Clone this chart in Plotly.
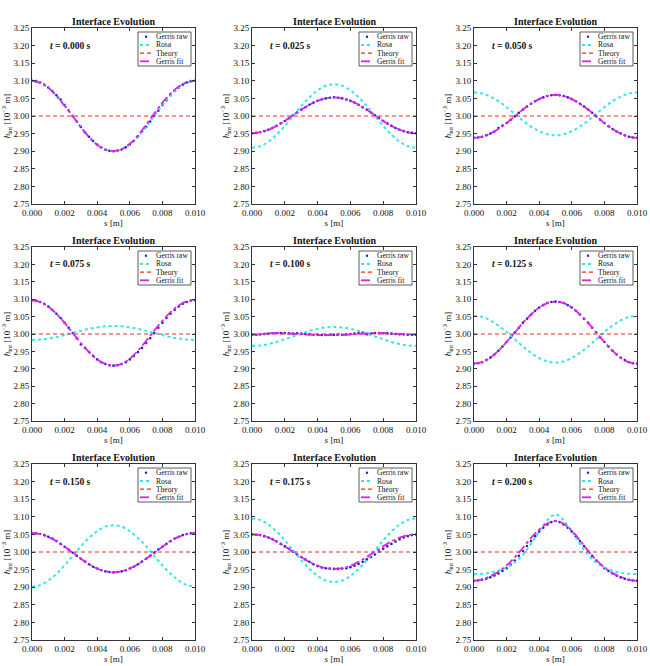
import plotly.graph_objects as go

# ---------------- data ----------------
TIMES = ["0.000", "0.025", "0.050", "0.075", "0.100", "0.125", "0.150", "0.175", "0.200"]
SERIES_NAMES = ["Gerris raw", "Rosa", "Theory", "Gerris fit"]

S21 = [0.0000, 0.0005, 0.0010, 0.0015, 0.0020, 0.0025, 0.0030, 0.0035, 0.0040, 0.0045,
       0.0050, 0.0055, 0.0060, 0.0065, 0.0070, 0.0075, 0.0080, 0.0085, 0.0090, 0.0095, 0.0100]

S41 = [0.00000, 0.00025, 0.00050, 0.00075, 0.00100, 0.00125, 0.00150, 0.00175, 0.00200, 0.00225,
       0.00250, 0.00275, 0.00300, 0.00325, 0.00350, 0.00375, 0.00400, 0.00425, 0.00450, 0.00475,
       0.00500, 0.00525, 0.00550, 0.00575, 0.00600, 0.00625, 0.00650, 0.00675, 0.00700, 0.00725,
       0.00750, 0.00775, 0.00800, 0.00825, 0.00850, 0.00875, 0.00900, 0.00925, 0.00950, 0.00975,
       0.01000]

THEORY_H = 3.00

gerris_raw_000 = [3.100, 3.099, 3.095, 3.089, 3.081, 3.071, 3.059, 3.047, 3.031, 3.016, 3.000, 2.984, 2.969, 2.953, 2.941, 2.929, 2.919, 2.911, 2.905, 2.901, 2.900,
                  2.901, 2.905, 2.911, 2.919, 2.929, 2.942, 2.956, 2.969, 2.984, 3.000, 3.015, 3.031, 3.045, 3.059, 3.071, 3.081, 3.089, 3.095, 3.099, 3.100]
gerris_raw_025 = [2.951, 2.952, 2.954, 2.957, 2.961, 2.966, 2.972, 2.979, 2.986, 2.994, 3.002, 3.010, 3.018, 3.025, 3.032, 3.038, 3.043, 3.047, 3.050, 3.052, 3.053,
                  3.052, 3.050, 3.047, 3.043, 3.038, 3.032, 3.025, 3.018, 3.010, 3.002, 2.994, 2.986, 2.979, 2.972, 2.966, 2.961, 2.957, 2.954, 2.952, 2.951]
gerris_raw_050 = [2.938, 2.939, 2.941, 2.945, 2.950, 2.956, 2.966, 2.973, 2.980, 2.989, 2.999, 3.009, 3.018, 3.027, 3.035, 3.042, 3.048, 3.053, 3.057, 3.059, 3.060,
                  3.059, 3.057, 3.053, 3.048, 3.042, 3.035, 3.027, 3.018, 3.009, 2.999, 2.989, 2.980, 2.971, 2.963, 2.956, 2.950, 2.945, 2.941, 2.939, 2.938]
gerris_raw_075 = [3.097, 3.096, 3.092, 3.087, 3.079, 3.069, 3.058, 3.046, 3.032, 3.018, 3.003, 2.988, 2.970, 2.960, 2.948, 2.937, 2.927, 2.919, 2.914, 2.910, 2.909,
                  2.910, 2.914, 2.919, 2.927, 2.937, 2.948, 2.960, 2.974, 2.988, 3.003, 3.018, 3.032, 3.046, 3.058, 3.069, 3.079, 3.087, 3.092, 3.096, 3.097]
gerris_raw_100 = [2.998, 2.998, 2.999, 3.000, 3.001, 3.002, 3.003, 3.003, 3.003, 3.002, 3.001, 3.002, 3.001, 3.000, 2.999, 2.998, 2.998, 2.997, 2.997, 2.998, 2.998,
                  2.998, 2.998, 2.999, 3.000, 3.001, 3.003, 3.004, 2.999, 3.001, 3.003, 3.003, 3.002, 3.002, 3.001, 3.000, 2.999, 2.999, 2.998, 2.998, 2.998]
gerris_raw_125 = [2.915, 2.916, 2.919, 2.925, 2.932, 2.941, 2.952, 2.964, 2.977, 2.990, 3.004, 3.018, 3.032, 3.044, 3.056, 3.067, 3.076, 3.083, 3.089, 3.092, 3.093,
                  3.092, 3.089, 3.083, 3.076, 3.067, 3.056, 3.044, 3.032, 3.018, 3.004, 2.990, 2.977, 2.964, 2.952, 2.941, 2.932, 2.925, 2.919, 2.916, 2.915]
gerris_raw_150 = [3.054, 3.053, 3.051, 3.048, 3.043, 3.038, 3.031, 3.023, 3.015, 3.007, 2.998, 2.989, 2.981, 2.973, 2.965, 2.958, 2.953, 2.948, 2.945, 2.943, 2.942,
                  2.943, 2.945, 2.948, 2.953, 2.958, 2.965, 2.973, 2.981, 2.989, 2.998, 3.007, 3.015, 3.023, 3.031, 3.038, 3.043, 3.048, 3.051, 3.053, 3.054]
gerris_raw_175 = [3.050, 3.049, 3.048, 3.045, 3.041, 3.036, 3.030, 3.023, 3.016, 3.009, 3.001, 2.993, 2.986, 2.979, 2.972, 2.965, 2.960, 2.956, 2.954, 2.953, 2.952,
                  2.952, 2.953, 2.954, 2.957, 2.961, 2.966, 2.972, 2.979, 2.986, 2.993, 3.001, 3.009, 3.016, 3.023, 3.030, 3.036, 3.041, 3.045, 3.048, 3.050]
gerris_raw_200 = [2.918, 2.919, 2.921, 2.924, 2.928, 2.933, 2.939, 2.946, 2.954, 2.964, 2.976, 2.989, 3.003, 3.017, 3.031, 3.045, 3.058, 3.069, 3.078, 3.085, 3.088,
                  3.085, 3.078, 3.069, 3.058, 3.045, 3.031, 3.017, 3.003, 2.989, 2.976, 2.964, 2.954, 2.946, 2.939, 2.933, 2.928, 2.924, 2.921, 2.919, 2.918]

rosa_000 = [3.100, 3.095, 3.081, 3.059, 3.031, 3.000, 2.969, 2.941, 2.919, 2.905, 2.900, 2.905, 2.919, 2.941, 2.969, 3.000, 3.031, 3.059, 3.081, 3.095, 3.100]
rosa_025 = [2.910, 2.914, 2.927, 2.947, 2.972, 3.000, 3.028, 3.053, 3.073, 3.086, 3.090, 3.086, 3.073, 3.053, 3.028, 3.000, 2.972, 2.947, 2.927, 2.914, 2.910]
rosa_050 = [3.067, 3.064, 3.055, 3.042, 3.025, 3.006, 2.987, 2.970, 2.957, 2.948, 2.945, 2.948, 2.957, 2.970, 2.987, 3.006, 3.025, 3.042, 3.055, 3.064, 3.067]
rosa_075 = [2.983, 2.984, 2.987, 2.991, 2.997, 3.003, 3.009, 3.015, 3.019, 3.022, 3.023, 3.022, 3.019, 3.015, 3.009, 3.003, 2.997, 2.991, 2.987, 2.984, 2.983]
rosa_100 = [2.966, 2.967, 2.971, 2.977, 2.985, 2.993, 3.001, 3.009, 3.015, 3.019, 3.020, 3.019, 3.015, 3.009, 3.001, 2.993, 2.985, 2.977, 2.971, 2.967, 2.966]
rosa_125 = [3.052, 3.049, 3.039, 3.024, 3.006, 2.985, 2.964, 2.946, 2.931, 2.921, 2.918, 2.921, 2.931, 2.946, 2.964, 2.985, 3.006, 3.024, 3.039, 3.049, 3.052]
rosa_150 = [2.902, 2.906, 2.919, 2.938, 2.962, 2.989, 3.016, 3.040, 3.059, 3.072, 3.076, 3.072, 3.059, 3.040, 3.016, 2.989, 2.962, 2.938, 2.919, 2.906, 2.902]
rosa_175 = [3.095, 3.091, 3.078, 3.058, 3.033, 3.005, 2.977, 2.952, 2.932, 2.919, 2.915, 2.919, 2.932, 2.952, 2.977, 3.005, 3.033, 3.058, 3.078, 3.091, 3.095]
rosa_200 = [2.937, 2.938, 2.941, 2.947, 2.956, 2.970, 2.992, 3.023, 3.058, 3.090, 3.107, 3.090, 3.058, 3.023, 2.992, 2.970, 2.956, 2.947, 2.941, 2.938, 2.937]

gerris_fit_000 = [3.100, 3.094, 3.080, 3.057, 3.029, 2.999, 2.968, 2.940, 2.918, 2.904, 2.901, 2.906, 2.921, 2.945, 2.975, 3.007, 3.038, 3.064, 3.084, 3.096, 3.100]
gerris_fit_025 = [2.951, 2.954, 2.961, 2.972, 2.986, 3.002, 3.018, 3.032, 3.043, 3.050, 3.053, 3.050, 3.043, 3.032, 3.018, 3.002, 2.986, 2.972, 2.961, 2.954, 2.951]
gerris_fit_050 = [2.938, 2.941, 2.950, 2.963, 2.980, 2.999, 3.018, 3.035, 3.048, 3.057, 3.060, 3.057, 3.048, 3.035, 3.018, 2.999, 2.980, 2.963, 2.950, 2.941, 2.938]
gerris_fit_075 = [3.097, 3.092, 3.079, 3.058, 3.032, 3.003, 2.974, 2.948, 2.927, 2.914, 2.909, 2.914, 2.929, 2.952, 2.980, 3.010, 3.038, 3.063, 3.082, 3.094, 3.097]
gerris_fit_100 = [2.998, 2.999, 3.002, 3.003, 3.002, 3.001, 2.999, 2.998, 2.997, 2.997, 2.997, 2.997, 2.998, 3.000, 3.002, 3.003, 3.003, 3.002, 3.000, 2.999, 2.998]
gerris_fit_125 = [2.915, 2.919, 2.932, 2.952, 2.977, 3.004, 3.032, 3.056, 3.076, 3.089, 3.093, 3.089, 3.076, 3.056, 3.032, 3.004, 2.977, 2.952, 2.932, 2.919, 2.915]
gerris_fit_150 = [3.054, 3.051, 3.043, 3.031, 3.015, 2.998, 2.981, 2.965, 2.953, 2.945, 2.942, 2.945, 2.953, 2.965, 2.981, 2.998, 3.015, 3.031, 3.043, 3.051, 3.054]
gerris_fit_175 = [3.050, 3.048, 3.041, 3.030, 3.016, 3.001, 2.986, 2.972, 2.961, 2.954, 2.952, 2.954, 2.961, 2.972, 2.986, 3.001, 3.016, 3.030, 3.041, 3.048, 3.050]
gerris_fit_200 = [2.918, 2.922, 2.931, 2.944, 2.962, 2.985, 3.012, 3.040, 3.064, 3.081, 3.088, 3.080, 3.060, 3.033, 3.003, 2.977, 2.956, 2.940, 2.929, 2.921, 2.918]

GERRIS_RAW = [gerris_raw_000, gerris_raw_025, gerris_raw_050, gerris_raw_075, gerris_raw_100,
              gerris_raw_125, gerris_raw_150, gerris_raw_175, gerris_raw_200]
ROSA = [rosa_000, rosa_025, rosa_050, rosa_075, rosa_100, rosa_125, rosa_150, rosa_175, rosa_200]
GERRIS_FIT = [gerris_fit_000, gerris_fit_025, gerris_fit_050, gerris_fit_075, gerris_fit_100,
              gerris_fit_125, gerris_fit_150, gerris_fit_175, gerris_fit_200]

X_TICKS = [0.000, 0.002, 0.004, 0.006, 0.008, 0.010]
X_TICKTEXT = ["0.000", "0.002", "0.004", "0.006", "0.008", "0.010"]
Y_TICKS = [2.75, 2.80, 2.85, 2.90, 2.95, 3.00, 3.05, 3.10, 3.15, 3.20, 3.25]
Y_TICKTEXT = ["2.75", "2.80", "2.85", "2.90", "2.95", "3.00", "3.05", "3.10", "3.15", "3.20", "3.25"]

# ---------------- layout geometry / styles ----------------
W, H = 650, 666
COL_PX = [(32, 195), (252, 416), (474, 637)]
ROW_PX = [(28, 204), (247, 421), (464, 640)]

FONT = "Liberation Serif"
C_RAW = "#2020d8"
C_ROSA = "#33e6e6"
C_THEORY = "#e8302a"
C_FIT = "#e020e8"
TXT = "#111"
THEORY_DASH = "4px,3px"

fig = go.Figure()
layout = dict(width=W, height=H, margin=dict(l=0, r=0, t=0, b=0, autoexpand=False),
              paper_bgcolor="white", plot_bgcolor="white", template="none",
              font=dict(family=FONT, size=9, color=TXT), showlegend=False)
annotations = []
shapes = []


def px_x(p):
    return p / W


def px_y(p):
    return 1 - p / H


for i in range(9):
    r, c = divmod(i, 3)
    n = i + 1
    xs = "" if n == 1 else str(n)
    xref, yref = "x" + xs, "y" + xs

    fig.add_trace(go.Scatter(x=S41, y=GERRIS_RAW[i], mode="markers", name=SERIES_NAMES[0],
                             marker=dict(color=C_RAW, size=2.6, line=dict(width=0)), xaxis=xref, yaxis=yref))
    fig.add_trace(go.Scatter(x=S21, y=ROSA[i], mode="lines", name=SERIES_NAMES[1], line_shape="spline",
                             line=dict(color=C_ROSA, width=2, dash="dot"), xaxis=xref, yaxis=yref))
    fig.add_trace(go.Scatter(x=[S21[0], S21[-1]], y=[THEORY_H, THEORY_H], mode="lines", name=SERIES_NAMES[2],
                             line=dict(color=C_THEORY, width=1.2, dash=THEORY_DASH), xaxis=xref, yaxis=yref))
    fig.add_trace(go.Scatter(x=S21, y=GERRIS_FIT[i], mode="lines", name=SERIES_NAMES[3], line_shape="spline",
                             line=dict(color=C_FIT, width=1.8, dash="dashdot"), xaxis=xref, yaxis=yref))

    x0, x1 = COL_PX[c]
    y0, y1 = ROW_PX[r]
    xdom = [px_x(x0), px_x(x1)]
    ydom = [px_y(y1), px_y(y0)]

    common = dict(showline=True, linecolor="#333", linewidth=1, mirror="allticks", automargin=False,
                  ticks="inside", ticklen=3, tickcolor="#333", showgrid=False, zeroline=False,
                  tickfont=dict(family=FONT, size=9, color=TXT))
    layout["xaxis" + xs] = dict(domain=xdom, anchor=yref, range=[0, 0.01],
                                tickvals=X_TICKS, ticktext=X_TICKTEXT,
                                title=dict(text="<i>s</i> [m]", standoff=1,
                                           font=dict(family=FONT, size=9, color=TXT)), **common)
    layout["yaxis" + xs] = dict(domain=ydom, anchor=xref, range=[2.75, 3.25],
                                tickvals=Y_TICKS, ticktext=Y_TICKTEXT,
                                title=dict(text="<i>h</i><sub>int</sub> [10<sup>−3</sup> m]", standoff=2,
                                           font=dict(family=FONT, size=9, color=TXT)), **common)

    # subplot title and time label
    annotations.append(dict(text="<b>Interface Evolution</b>", xref="paper", yref="paper",
                            x=px_x((x0 + x1) / 2), y=px_y(y0 - 7), xanchor="center", yanchor="middle",
                            showarrow=False, font=dict(family=FONT, size=10, color=TXT)))
    annotations.append(dict(text="<b><i>t</i> = " + TIMES[i] + " s</b>", xref=xref, yref=yref,
                            x=0.001, y=3.20, xanchor="left", yanchor="middle",
                            showarrow=False, font=dict(family=FONT, size=9.5, color=TXT)))

    # legend box (drawn in paper coordinates)
    bl, br = x1 - 57, x1 - 4
    bt, bb = y0 + 4, y0 + 38
    shapes.append(dict(type="rect", xref="paper", yref="paper",
                       x0=px_x(bl), x1=px_x(br), y0=px_y(bb), y1=px_y(bt),
                       line=dict(color="#333", width=0.8), fillcolor="white", layer="above"))
    row_off = [8.7, 17.0, 25.2, 33.3]
    sx0, sx1 = x1 - 55, x1 - 43
    for k, name in enumerate(SERIES_NAMES):
        yy = px_y(y0 + row_off[k])
        if k == 0:
            shapes.append(dict(type="circle", xref="paper", yref="paper",
                               x0=px_x((sx0 + sx1) / 2 - 1.2), x1=px_x((sx0 + sx1) / 2 + 1.2),
                               y0=yy - 1.2 / H, y1=yy + 1.2 / H,
                               fillcolor=C_RAW, line=dict(color=C_RAW, width=0), layer="above"))
        else:
            st = {1: (C_ROSA, 2, "dot"), 2: (C_THEORY, 1.2, THEORY_DASH), 3: (C_FIT, 1.8, "dashdot")}[k]
            shapes.append(dict(type="line", xref="paper", yref="paper",
                               x0=px_x(sx0), x1=px_x(sx1), y0=yy, y1=yy,
                               line=dict(color=st[0], width=st[1], dash=st[2]), layer="above"))
        annotations.append(dict(text=name, xref="paper", yref="paper",
                                x=px_x(x1 - 41), y=yy, xanchor="left", yanchor="middle",
                                showarrow=False, font=dict(family=FONT, size=7.5, color=TXT)))

layout["annotations"] = annotations
layout["shapes"] = shapes
fig.update_layout(**layout)
fig.write_html("out.html")
